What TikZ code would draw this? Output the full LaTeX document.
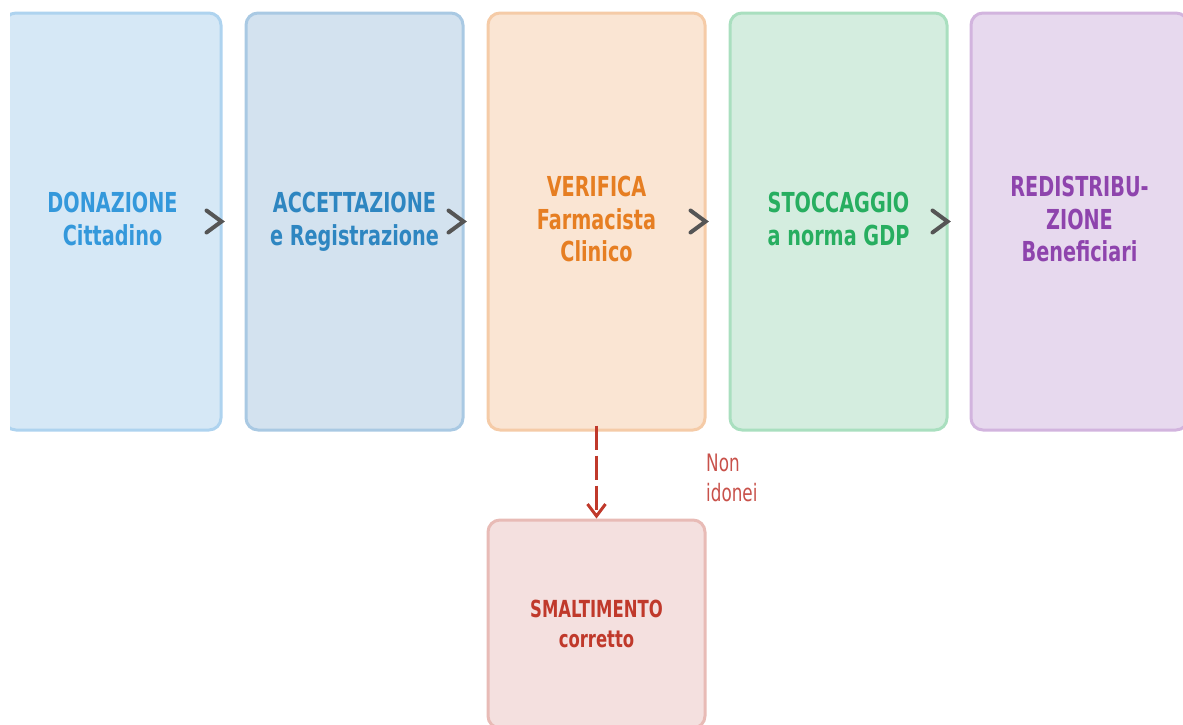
\documentclass[tikz,border=0pt]{standalone}
\usepackage{fontspec}
\setmainfont{DejaVu Sans}
\newfontfamily\nfont[FakeStretch=0.70]{DejaVu Sans}
\usetikzlibrary{arrows.meta}
\definecolor{f1}{HTML}{D6E8F6}\definecolor{d1}{HTML}{AED3EF}\definecolor{t1}{HTML}{3498DB}
\definecolor{f2}{HTML}{D3E2EF}\definecolor{d2}{HTML}{A9C9E3}\definecolor{t2}{HTML}{2E86C1}
\definecolor{f3}{HTML}{FAE5D3}\definecolor{d3}{HTML}{F5CBA7}\definecolor{t3}{HTML}{E67E22}
\definecolor{f4}{HTML}{D4EDDF}\definecolor{d4}{HTML}{A9DFBF}\definecolor{t4}{HTML}{27AE60}
\definecolor{f5}{HTML}{E7D9EE}\definecolor{d5}{HTML}{D2B4DE}\definecolor{t5}{HTML}{8E44AD}
\definecolor{f6}{HTML}{F4E0DF}\definecolor{d6}{HTML}{E8BBB6}\definecolor{t6}{HTML}{C0392B}
\definecolor{lblc}{HTML}{C8514A}
\definecolor{chevc}{HTML}{555555}
\tikzset{
  stage/.style={draw, line width=3pt, rounded corners=12pt, minimum width=217pt, minimum height=417pt,
    inner sep=0pt, align=center, text depth=5pt, font=\nfont\bfseries\fontsize{27.5}{32.5}\selectfont},
  sink/.style={stage, minimum height=208pt, text depth=0.5pt, font=\nfont\bfseries\fontsize{23.5}{30}\selectfont},
  chev/.style={draw=chevc, line width=4pt, line cap=round, line join=miter},
  reject/.style={draw=t6, line width=3pt, dash pattern=on 24pt off 6pt, -{Straight Barb[length=12pt,width=18pt,line width=3pt]}},
  note/.style={text=lblc, align=left, anchor=west, inner sep=0pt, font=\nfont\fontsize{24}{30}\selectfont}
}
\begin{document}
\begin{tikzpicture}[x=1pt,y=-1pt]
\useasboundingbox (0,0) rectangle (1183,724);
\begin{scope}
\clip (10,0) rectangle (1183,724);
\node[stage, fill=f1, draw=d1, text=t1] (b1) at (112.5,221.5) {DONAZIONE\\Cittadino};
\node[stage, fill=f2, draw=d2, text=t2] (b2) at (354.5,221.5) {ACCETTAZIONE\\e Registrazione};
\node[stage, fill=f3, draw=d3, text=t3] (b3) at (596.5,221.5) {VERIFICA\\Farmacista\\Clinico};
\node[stage, fill=f4, draw=d4, text=t4] (b4) at (838.5,221.5) {STOCCAGGIO\\a norma GDP};
\node[stage, fill=f5, draw=d5, text=t5] (b5) at (1079.5,221.5) {REDISTRIBU-\\ZIONE\\Beneficiari};
\node[sink, fill=f6, draw=d6, text=t6] (b6) at (596.5,624) {SMALTIMENTO\\corretto};
\end{scope}
\foreach \n in {b1,b2,b3,b4}{
  \draw[chev] ([xshift=-16pt,yshift=11pt]\n.east) -- ([xshift=-1pt]\n.east) -- ([xshift=-16pt,yshift=-11pt]\n.east);
}
\draw[reject] ([yshift=6pt]b3.south) -- (b6.north);
\node[note] (lbl) at (706,478) {Non\\idonei};
\end{tikzpicture}
\end{document}
